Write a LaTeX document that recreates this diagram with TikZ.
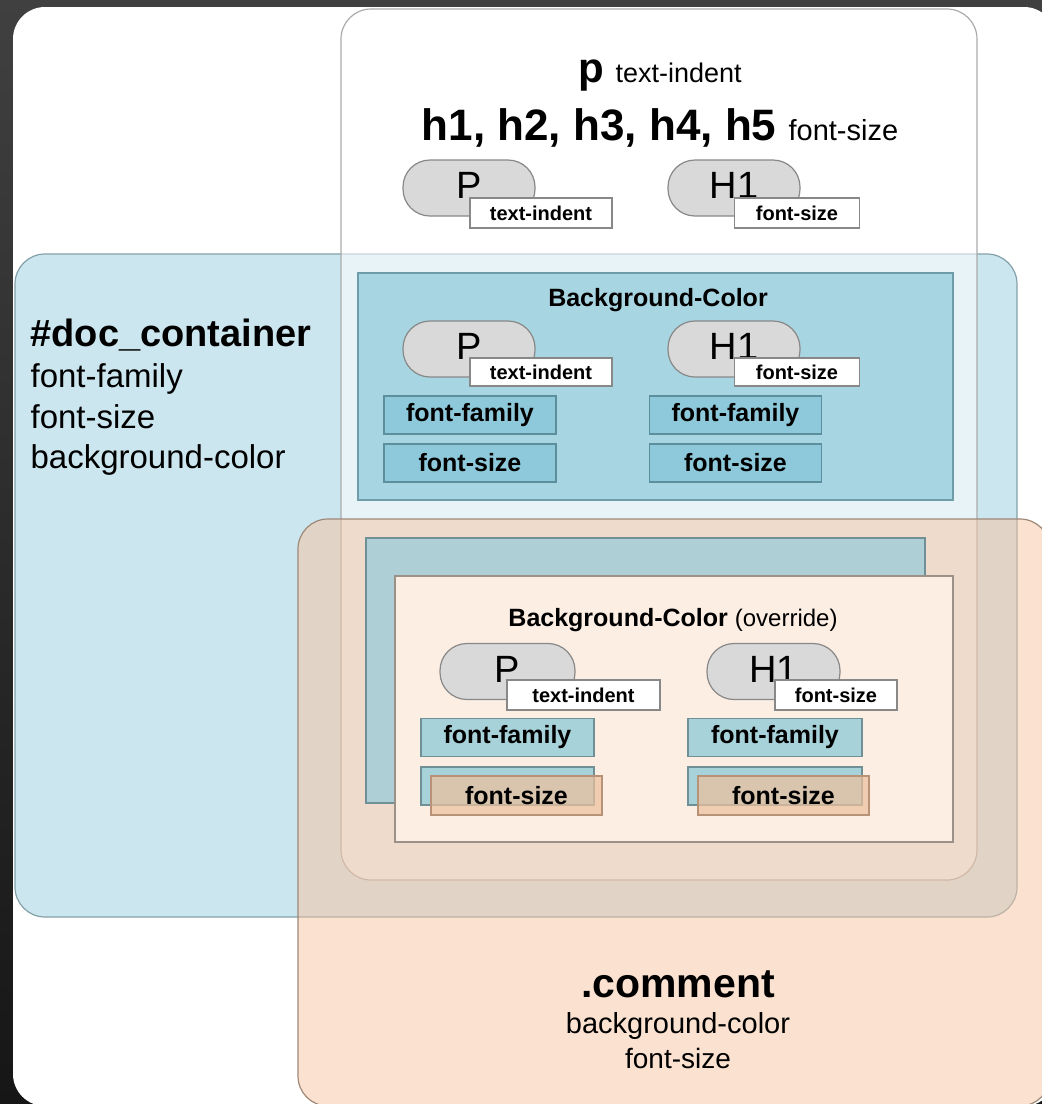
\documentclass[tikz,border=0pt]{standalone}
\usepackage{fontspec}
\setmainfont{Liberation Sans}
\usetikzlibrary{positioning}

\definecolor{bgtop}{HTML}{404040}
\definecolor{bgbot}{HTML}{161616}
\definecolor{docblue}{HTML}{CBE6EE}
\definecolor{docline}{HTML}{84A0A8}
\definecolor{bodyline}{HTML}{ABABAB}
\definecolor{cmtorange}{HTML}{F7C4A2}
\definecolor{cmtline}{HTML}{9E8878}
\definecolor{boxblue}{HTML}{A8D5E2}
\definecolor{boxline}{HTML}{6E9CA8}
\definecolor{propblue}{HTML}{8DC9DA}
\definecolor{propline}{HTML}{5C8E9B}
\definecolor{pillgray}{HTML}{D9D9D9}
\definecolor{pillline}{HTML}{888888}
\definecolor{backblue}{HTML}{ADCFD5}
\definecolor{backline}{HTML}{6F9096}
\definecolor{overfill}{HTML}{FDEEE4}
\definecolor{overline}{HTML}{9C9189}
\definecolor{lowblue}{HTML}{A8D2DA}
\definecolor{fsorange}{HTML}{ECC19E}
\definecolor{fsline}{HTML}{B89276}

\newcommand\pxsize[1]{\fontsize{#1}{#1}\selectfont}

\begin{document}
\begin{tikzpicture}[x=1pt, y=-1pt, line width=1.2pt,
  region/.style={rounded corners=30pt},
  pill/.style={draw=pillline, fill=pillgray, rounded corners=27pt, minimum width=132pt, minimum height=56pt, inner sep=0pt, text depth=5pt, font=\pxsize{38}},
  tag/.style={draw=pillline, fill=white, minimum height=30pt, inner sep=0pt, font=\bfseries\pxsize{20}},
  prop/.style={draw=propline, fill=propblue, minimum width=172pt, minimum height=38pt, inner sep=0pt, font=\bfseries\pxsize{25}},
  lowprop/.style={prop, draw=backline, fill=lowblue},
  fsprop/.style={prop, draw=fsline, fill=fsorange, fill opacity=0.72, text opacity=1}]
  \useasboundingbox (0,0) rectangle (1042,1104);
  \shade[top color=bgtop, bottom color=bgbot] (0,0) rectangle (1042,1104);
  \fill[white, region, rounded corners=32pt] (13,7) rectangle (1056,1106);
  % regions
  \filldraw[region, fill=docblue, draw=docline] (15,254) rectangle (1017,917);
  \filldraw[region, fill=white, fill opacity=0.55, draw=bodyline] (341,9) rectangle (977,880);
  \filldraw[region, fill=cmtorange, fill opacity=0.5, draw=cmtline] (298,519) rectangle (1050,1106);
  % body
  \node[anchor=base] (ptxt) at (660,82) {\bfseries\pxsize{42}p \mdseries\pxsize{27}text-indent};
  \node[anchor=base] (htxt) at (660,140) {\bfseries\pxsize{44}h1, h2, h3, h4, h5 \mdseries\pxsize{29}font-size};
  \node[pill] (p1) at (469,188) {P};
  \node[pill] (h1) at (734,188) {H1};
  \node[tag, minimum width=142pt] (p1t) at (541,213) {text-indent};
  \node[tag, minimum width=125pt] (h1t) at (797,213) {font-size};
  % #doc_container
  \node[anchor=base west, inner sep=0pt] (dcname) at (30,346) {\bfseries\pxsize{38}\#doc\_container};
  \node[anchor=base west, inner sep=0pt] (dcff) at (30,387) {\pxsize{33}font-family};
  \node[anchor=base west, inner sep=0pt] (dcfs) at (30,428) {\pxsize{33}font-size};
  \node[anchor=base west, inner sep=0pt] (dcbg) at (30,468) {\pxsize{33}background-color};
  \node[draw=boxline, fill=boxblue, minimum width=595pt, minimum height=227pt, inner sep=0pt] (bgbox) at (655.5,386.5) {};
  \node[anchor=base] (bgtitle) at (658,306) {\bfseries\pxsize{25}Background-Color};
  \node[pill] (p2) at (469,349) {P};
  \node[pill] (h2) at (734,349) {H1};
  \node[tag, minimum width=142pt, minimum height=28pt] (p2t) at (541,372) {text-indent};
  \node[tag, minimum width=125pt, minimum height=28pt] (h2t) at (797,372) {font-size};
  \node[prop] (p2ff) at (470,415) {font-family};
  \node[prop] (p2fs) at (470,463) {font-size};
  \node[prop] (h2ff) at (735.5,415) {font-family};
  \node[prop] (h2fs) at (735.5,463) {font-size};
  % .comment
  \node[draw=backline, fill=backblue, minimum width=559pt, minimum height=265pt, inner sep=0pt] (backbox) at (645.5,670.5) {};
  \node[draw=overline, fill=overfill, minimum width=558pt, minimum height=266pt, inner sep=0pt] (overbox) at (674,709) {};
  \node[anchor=base] (ovtitle) at (673,626) {\bfseries\pxsize{25}Background-Color \mdseries\pxsize{24}(override)};
  \node[pill, minimum width=135pt] (p3) at (507.5,671.5) {P};
  \node[pill, minimum width=133pt] (h3) at (773.5,671.5) {H1};
  \node[tag, minimum width=153pt] (p3t) at (583.5,695) {text-indent};
  \node[tag, minimum width=122pt] (h3t) at (836,695) {font-size};
  \node[lowprop, minimum width=173pt] (p3ff) at (507.5,737.5) {font-family};
  \node[lowprop, minimum width=174pt] (h3ff) at (775,737.5) {font-family};
  \node[lowprop, minimum width=173pt] (p3fsb) at (507.5,786) {};
  \node[lowprop, minimum width=174pt] (h3fsb) at (775,786) {};
  \node[fsprop, minimum width=171pt, minimum height=39pt] (p3fs) at (516.5,795.5) {font-size};
  \node[fsprop, minimum width=171pt, minimum height=39pt] (h3fs) at (783.5,795.5) {font-size};
  \node[anchor=base] (cmtname) at (678,997) {\bfseries\pxsize{41}.comment};
  \node[anchor=base] (cmtbg) at (678,1033) {\pxsize{29}background-color};
  \node[anchor=base] (cmtfs) at (678,1068) {\pxsize{28}font-size};
\end{tikzpicture}
\end{document}
